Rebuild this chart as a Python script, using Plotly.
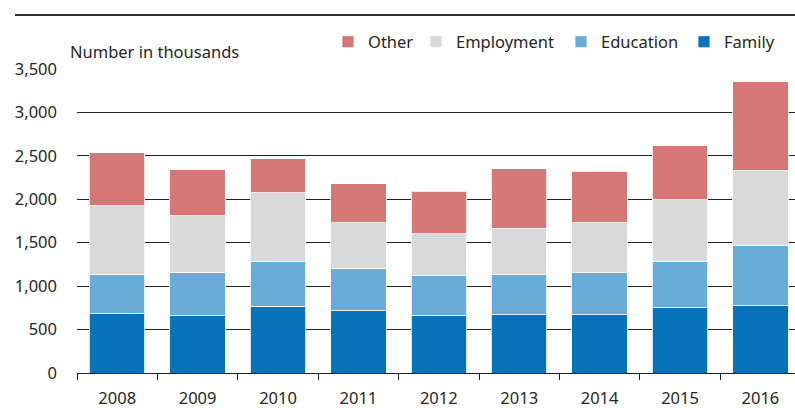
import plotly.graph_objects as go

years = ["2008", "2009", "2010", "2011", "2012", "2013", "2014", "2015", "2016"]
family = [685, 659, 766, 716, 663, 670, 670, 755, 778]
education = [453, 502, 514, 491, 456, 460, 487, 529, 694]
employment = [789, 648, 793, 525, 487, 537, 571, 709, 855]
other = [606, 533, 395, 445, 487, 686, 595, 625, 1027]

y_ticks = [0, 500, 1000, 1500, 2000, 2500, 3000, 3500]
y_tick_text = ["0", "500", "1,000", "1,500", "2,000", "2,500", "3,000", "3,500"]

series = [
    ("Family", family, "#0773bb", "legend4"),
    ("Education", education, "#69acd7", "legend3"),
    ("Employment", employment, "#d9d9d9", "legend2"),
    ("Other", other, "#d47776", "legend"),
]

FONT = "Noto Sans"
TXT = "#262626"
FS = 16.5

W, H = 795, 408
L, R, T, B = 77, 0, 69, 35
PW = W - L - R
PH = H - T - B


def px_x(px):
    return (px - L) / PW


def px_y(py):
    return (H - B - py) / PH


fig = go.Figure()
for name, vals, col, lg in series:
    fig.add_trace(go.Bar(
        x=years, y=vals, name=name, legend=lg, showlegend=True,
        marker=dict(color=col, line=dict(color="rgba(255,255,255,0.8)", width=1)),
    ))

leg_common = dict(
    orientation="h", xanchor="left", yanchor="middle",
    y=px_y(42), font=dict(family=FONT, size=FS, color=TXT),
    bgcolor="rgba(0,0,0,0)", itemwidth=30, visible=True,
)
leg_x = {"legend": 328, "legend2": 416, "legend3": 561, "legend4": 684}

fig.update_layout(
    width=W, height=H, showlegend=True,
    margin=dict(l=L, r=R, t=T, b=B, autoexpand=False),
    barmode="stack", bargap=0.31,
    plot_bgcolor="white", paper_bgcolor="white",
    font=dict(family=FONT, size=FS, color=TXT),
    xaxis=dict(
        range=[-0.5, 8.43], automargin=False,
        showline=True, linecolor="#222", linewidth=1,
        ticks="outside", tickson="boundaries", ticklen=6, tickcolor="#222",
        ticklabelstandoff=10,
        showgrid=False, tickfont=dict(size=FS, color=TXT),
    ),
    yaxis=dict(
        range=[0, 3500], automargin=False,
        tickvals=y_ticks, ticktext=y_tick_text,
        showgrid=True, gridcolor="#222", gridwidth=1,
        zeroline=False, showline=False, ticks="",
        ticklabelstandoff=19,
        tickfont=dict(size=FS, color=TXT),
    ),
    annotations=[dict(
        text="Number in thousands", xref="paper", yref="paper",
        x=px_x(68), y=px_y(51), xanchor="left", yanchor="middle",
        showarrow=False, font=dict(family=FONT, size=FS, color=TXT),
    )],
    shapes=[dict(
        type="line", xref="paper", yref="paper",
        x0=px_x(15), x1=1.0,
        y0=px_y(15), y1=px_y(15),
        line=dict(color="#333", width=2),
    )],
)
for k, xv in leg_x.items():
    fig.update_layout({k: dict(leg_common, x=px_x(xv))})

fig.write_html(
    "out.html",
    config={"displayModeBar": False},
    post_script="document.body.style.margin='0';document.body.style.overflow='hidden';",
)
